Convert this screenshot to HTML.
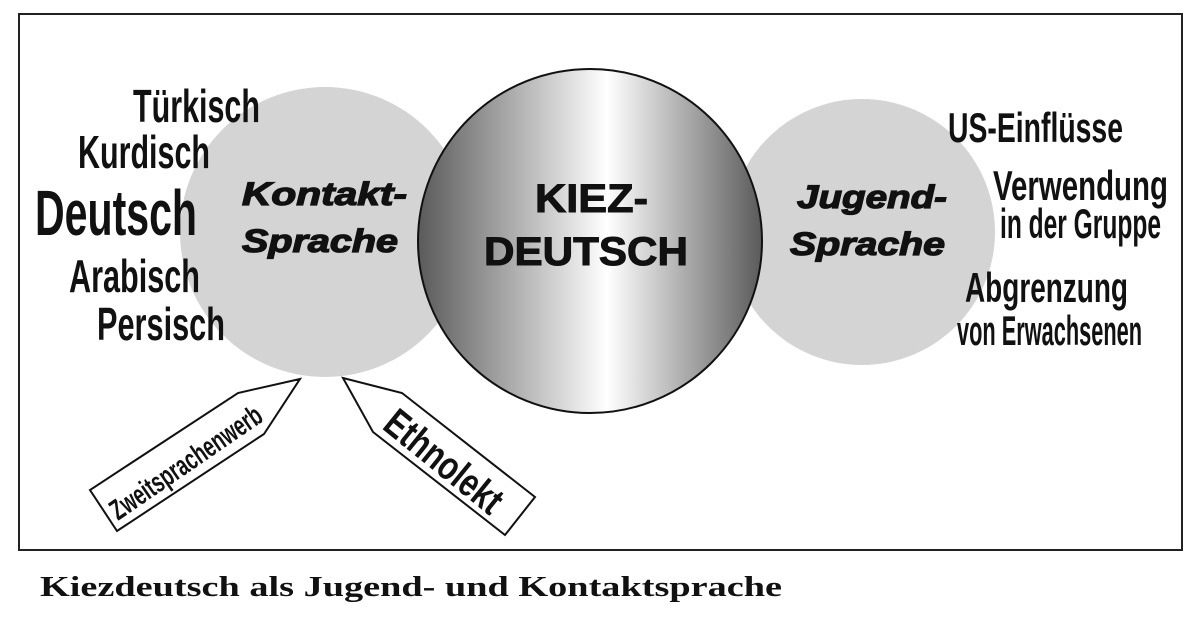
<!DOCTYPE html>
<html><head><meta charset="utf-8"><style>
html,body{margin:0;padding:0;background:#fff;}
svg{display:block;}
.n{font-family:"Liberation Sans Narrow","Liberation Sans",sans-serif;font-weight:bold;fill:#111;}
.i{font-family:"Liberation Sans",sans-serif;font-weight:bold;font-style:italic;fill:#111;stroke:#111;stroke-width:1.3;}
.b{font-family:"Liberation Sans",sans-serif;font-weight:bold;fill:#111;stroke:#111;stroke-width:1;}
</style></head><body>
<svg width="1200" height="619" viewBox="0 0 1200 619" xmlns="http://www.w3.org/2000/svg">
<defs>
<linearGradient id="g" x1="0" y1="0" x2="1" y2="0">
<stop offset="0" stop-color="#5a5a5a"/>
<stop offset="0.55" stop-color="#ffffff"/>
<stop offset="1" stop-color="#5a5a5a"/>
</linearGradient>
</defs>
<rect x="19" y="14" width="1163" height="536" fill="#fff" stroke="#222" stroke-width="2"/>
<circle cx="325" cy="232" r="145" fill="#d4d4d4"/>
<circle cx="862" cy="232" r="133" fill="#d4d4d4"/>
<circle cx="590" cy="241" r="172" fill="url(#g)" stroke="#111" stroke-width="2"/>

<text class="n" x="133" y="122" font-size="46" textLength="127" lengthAdjust="spacingAndGlyphs">Türkisch</text>
<text class="n" x="78" y="168" font-size="46" textLength="132" lengthAdjust="spacingAndGlyphs">Kurdisch</text>
<text class="n" x="35" y="235" font-size="64" textLength="162" lengthAdjust="spacingAndGlyphs">Deutsch</text>
<text class="n" x="69" y="292" font-size="46" textLength="131" lengthAdjust="spacingAndGlyphs">Arabisch</text>
<text class="n" x="97" y="340" font-size="46" textLength="128" lengthAdjust="spacingAndGlyphs">Persisch</text>

<text class="i" x="242" y="205" font-size="32" textLength="165" lengthAdjust="spacingAndGlyphs">Kontakt-</text>
<text class="i" x="242" y="252" font-size="32" textLength="156" lengthAdjust="spacingAndGlyphs">Sprache</text>

<text class="b" x="535" y="212" font-size="40" textLength="113" lengthAdjust="spacingAndGlyphs">KIEZ-</text>
<text class="b" x="484" y="265" font-size="40" textLength="204" lengthAdjust="spacingAndGlyphs">DEUTSCH</text>

<text class="i" x="797" y="208" font-size="32" textLength="150" lengthAdjust="spacingAndGlyphs">Jugend-</text>
<text class="i" x="790" y="255" font-size="32" textLength="155" lengthAdjust="spacingAndGlyphs">Sprache</text>

<text class="n" x="948" y="142" font-size="42" textLength="175" lengthAdjust="spacingAndGlyphs">US-Einflüsse</text>
<text class="n" x="993" y="200" font-size="42" textLength="175" lengthAdjust="spacingAndGlyphs">Verwendung</text>
<text class="n" x="1000" y="238" font-size="42" textLength="161" lengthAdjust="spacingAndGlyphs">in der Gruppe</text>
<text class="n" x="965" y="302" font-size="42" textLength="163" lengthAdjust="spacingAndGlyphs">Abgrenzung</text>
<text class="n" x="957" y="345" font-size="42" textLength="185" lengthAdjust="spacingAndGlyphs">von Erwachsenen</text>

<polygon points="300,379 238,393 90,490 117,531 264,434" fill="#fff" stroke="#111" stroke-width="2"/>
<text class="n" transform="translate(118,521) rotate(-34.5)" font-size="29" textLength="178" lengthAdjust="spacingAndGlyphs">Zweitsprachenwerb</text>
<polygon points="343,378 402,393 535,497 505,535 373,432" fill="#fff" stroke="#111" stroke-width="2"/>
<text class="n" transform="translate(381,428) rotate(39)" font-size="40" textLength="140" lengthAdjust="spacingAndGlyphs">Ethnolekt</text>

<text x="40" y="596" font-family="Liberation Serif, serif" font-weight="bold" font-size="29" fill="#111" textLength="742" lengthAdjust="spacingAndGlyphs">Kiezdeutsch als Jugend- und Kontaktsprache</text>
</svg>
</body></html>
